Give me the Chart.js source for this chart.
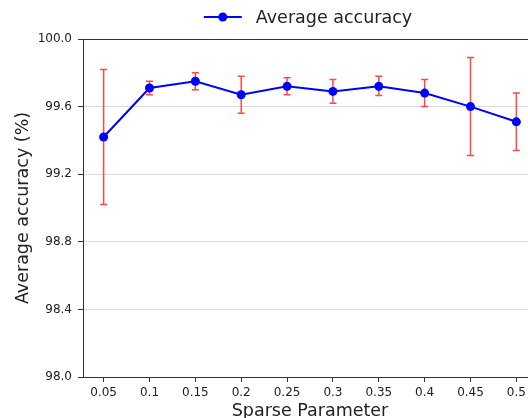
<!DOCTYPE html>
<html>
<head>
<meta charset="utf-8">
<script src="https://cdn.jsdelivr.net/npm/chart.js@4.4.0/dist/chart.umd.min.js"></script>
<style>
  html, body { margin: 0; padding: 0; background: #fff; overflow: hidden; }
  #wrap { width: 528px; height: 418px; overflow: hidden; }
  canvas { display: block; }
</style>
</head>
<body>
<div id="wrap"><canvas id="chart" width="560" height="422"></canvas></div>
<script>
'use strict';

// ***** DATA *****
let sparseParams = [0.05, 0.1, 0.15, 0.2, 0.25, 0.3, 0.35, 0.4, 0.45, 0.5];
let avgAccuracy = [99.42, 99.71, 99.75, 99.67, 99.72, 99.69, 99.72, 99.68, 99.60, 99.51];
let errUpper = [99.82, 99.75, 99.80, 99.78, 99.77, 99.76, 99.78, 99.76, 99.89, 99.68];
let errLower = [99.02, 99.67, 99.70, 99.56, 99.67, 99.62, 99.665, 99.60, 99.31, 99.34];
let yTicks = [98.0, 98.4, 98.8, 99.2, 99.6, 100.0];
let seriesLabel = 'Average accuracy';

// ***** STYLE *****
let spineColor = '#333333';
let textColor = '#222222';
Chart.defaults.font.family = '"DejaVu Sans", sans-serif';
Chart.defaults.color = textColor;

// ***** PLUGINS *****
// red error bars with caps, drawn under the line
let errorBarPlugin = {
    id: 'errorBars',
    beforeDatasetsDraw(chart) {
        let ctx = chart.ctx;
        let xs = chart.scales.x;
        let ys = chart.scales.y;
        ctx.save();
        ctx.strokeStyle = 'rgba(255, 40, 40, 0.85)';
        ctx.lineWidth = 1.5;
        for (let i = 0; i < sparseParams.length; i++) {
            let x = xs.getPixelForValue(sparseParams[i]);
            let yTop = ys.getPixelForValue(errUpper[i]);
            let yBot = ys.getPixelForValue(errLower[i]);
            ctx.beginPath();
            ctx.moveTo(x, yTop); ctx.lineTo(x, yBot);
            ctx.moveTo(x - 3.5, yTop); ctx.lineTo(x + 3.5, yTop);
            ctx.moveTo(x - 3.5, yBot); ctx.lineTo(x + 3.5, yBot);
            ctx.stroke();
        }
        ctx.restore();
    }
};

// top spine and matplotlib-like legend (line + marker)
let frameLegendPlugin = {
    id: 'frameLegend',
    afterDraw(chart) {
        let ctx = chart.ctx;
        let area = chart.chartArea;
        ctx.save();
        ctx.strokeStyle = spineColor;
        ctx.lineWidth = 1;
        ctx.beginPath();
        ctx.moveTo(area.left, area.top + 0.5);
        ctx.lineTo(area.right, area.top + 0.5);
        ctx.stroke();

        ctx.font = '17.5px "DejaVu Sans"';
        let textW = ctx.measureText(seriesLabel).width;
        let lineW = 38, gap = 14;
        let total = lineW + gap + textW;
        let x0 = (area.left + area.right) / 2 - total / 2 - 2;
        let y0 = 17;
        ctx.strokeStyle = '#0000ff';
        ctx.lineWidth = 2;
        ctx.beginPath();
        ctx.moveTo(x0, y0); ctx.lineTo(x0 + lineW, y0);
        ctx.stroke();
        ctx.fillStyle = '#0000ff';
        ctx.beginPath();
        ctx.arc(x0 + lineW / 2, y0, 4.5, 0, Math.PI * 2);
        ctx.fill();
        ctx.fillStyle = textColor;
        ctx.textBaseline = 'middle';
        ctx.textAlign = 'left';
        ctx.fillText(seriesLabel, x0 + lineW + gap, y0 + 1);
        ctx.restore();
    }
};

// ***** CHART *****
let canvasElem = document.getElementById('chart');

let chartObj = {
    type: 'line',
    data: {
        datasets: [{
            label: seriesLabel,
            data: sparseParams.map((p, i) => ({ x: p, y: avgAccuracy[i] })),
            borderColor: '#0000ff',
            backgroundColor: '#0000ff',
            borderWidth: 2,
            pointRadius: 4.5,
            pointHoverRadius: 4.5,
            pointBackgroundColor: '#0000ff',
            pointBorderWidth: 0,
            tension: 0
        }]
    },
    options: {
        responsive: false,
        animation: false,
        events: [],
        layout: { padding: { left: 0, right: 23, top: 39, bottom: 0 } },
        plugins: {
            legend: { display: false },
            tooltip: { enabled: false }
        },
        scales: {
            x: {
                type: 'linear',
                min: 0.0275,
                max: 0.5225,
                afterBuildTicks: (scale) => { scale.ticks = sparseParams.map(v => ({ value: v })); },
                afterFit: (scale) => { scale.height = 45; },
                ticks: {
                    font: { size: 12 },
                    padding: 4,
                    maxRotation: 0,
                    autoSkip: false,
                    callback: (v) => String(+v.toFixed(2))
                },
                grid: { drawOnChartArea: false, tickLength: 5, tickColor: spineColor, tickWidth: 1 },
                border: { color: spineColor, width: 1 },
                title: {
                    display: true,
                    text: 'Sparse Parameter',
                    font: { size: 17.5 },
                    padding: { top: 0, bottom: 0 }
                }
            },
            y: {
                min: 98,
                max: 100,
                afterBuildTicks: (scale) => { scale.ticks = yTicks.map(v => ({ value: v })); },
                afterFit: (scale) => { scale.width = 83; },
                ticks: {
                    font: { size: 12 },
                    padding: 6,
                    callback: (v) => v.toFixed(1)
                },
                grid: { color: '#dcdcdc', lineWidth: 1, tickLength: 5, tickColor: spineColor },
                border: { color: spineColor, width: 1 },
                title: {
                    display: true,
                    text: 'Average accuracy (%)',
                    font: { size: 17.5 },
                    padding: { top: 13, bottom: 0 }
                }
            }
        }
    },
    plugins: [errorBarPlugin, frameLegendPlugin]
};

new Chart(canvasElem, chartObj);
</script>
</body>
</html>
